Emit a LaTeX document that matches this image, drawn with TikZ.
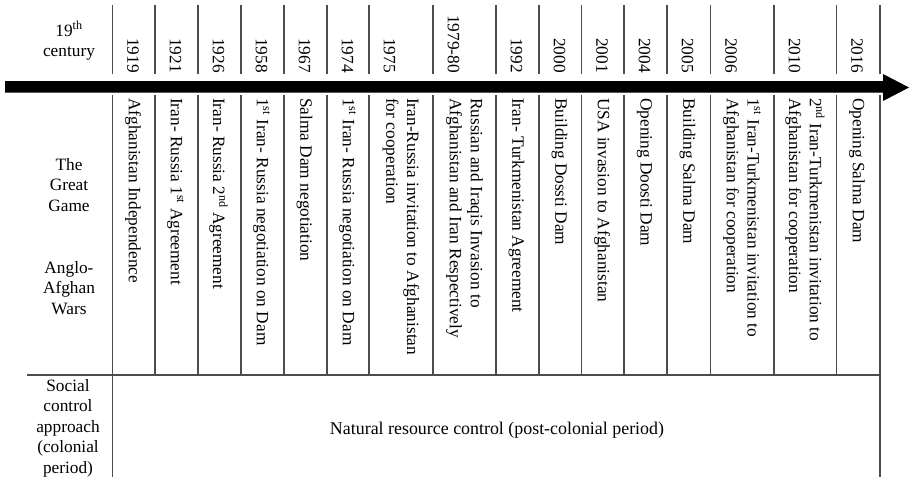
\documentclass[tikz,border=0pt]{standalone}
\usepackage{fontspec}
\setmainfont{Liberation Serif}
\newcommand\evfont{\fontsize{17.3}{20.8}\selectfont}
\newcommand\labfont{\fontsize{17.3}{20.5}\selectfont}
\begin{document}
\begin{tikzpicture}[x=1pt,y=-1pt,
  gridline/.style={draw=black!70,line width=1.3pt},
  yr/.style={rotate=-90,anchor=east,inner sep=0pt,font=\evfont},
  ev/.style={rotate=-90,anchor=west,inner sep=0pt,align=left,font=\evfont},
  lab/.style={align=center,inner sep=0pt,font=\labfont}]
\useasboundingbox (0,0) rectangle (910,479);
% upper grid lines
\foreach \x in {112.5,155,198,241,284,327,369,433,496,539,581.5,624,667,710.5,774,836.5,880}
  \draw[gridline] (\x,5) -- (\x,74);
% lower grid lines
\foreach \x in {155,198,241,284,327,369,433,496,539,581.5,624,667,710.5,774,836.5}
  \draw[gridline] (\x,95) -- (\x,375);
\draw[gridline] (112.5,95) -- (112.5,477);
\draw[gridline] (880,95) -- (880,477);
\draw[gridline] (27,375) -- (880,375);
% arrow
\fill[black] (5,81) -- (883,81) -- (883,74) -- (909,87.5) -- (883,101) -- (883,92.5) -- (5,92.5) -- cycle;
% left labels
\node[lab] (c19) at (69,41) {19\textsuperscript{th}\\century};
\node[lab] (gg) at (69,185) {The\\Great\\Game};
\node[lab] (aaw) at (69,288) {Anglo-\\Afghan\\Wars};
\node[lab] (sca) at (68,428) {Social\\control\\approach\\(colonial\\period)};
\node[lab,font=\fontsize{17.9}{21}\selectfont] (nrc) at (497,430) {Natural resource control (post-colonial period)};
% years
\node[yr] (y1) at (133,73) {1919};
\node[yr] (y2) at (175.5,73) {1921};
\node[yr] (y3) at (218.5,73) {1926};
\node[yr] (y4) at (261.5,73) {1958};
\node[yr] (y5) at (304.5,73) {1967};
\node[yr] (y6) at (347.5,73) {1974};
\node[yr] (y7) at (389.5,73) {1975};
\node[yr] (y8) at (453.5,73) {1979-80};
\node[yr] (y9) at (516.5,73) {1992};
\node[yr] (y10) at (559.5,73) {2000};
\node[yr] (y11) at (602,73) {2001};
\node[yr] (y12) at (644.5,73) {2004};
\node[yr] (y13) at (687.5,73) {2005};
\node[yr] (y14) at (731,73) {2006};
\node[yr] (y15) at (794.5,73) {2010};
\node[yr] (y16) at (857,73) {2016};
% events
\node[ev] (e1) at (133,98) {Afghanistan Independence};
\node[ev] (e2) at (175.5,98) {Iran- Russia 1\textsuperscript{st} Agreement};
\node[ev] (e3) at (218.5,98) {Iran- Russia 2\textsuperscript{nd} Agreement};
\node[ev] (e4) at (261.5,98) {1\textsuperscript{st} Iran- Russia negotiation on Dam};
\node[ev] (e5) at (304.5,98) {Salma Dam negotiation};
\node[ev] (e6) at (347.5,98) {1\textsuperscript{st} Iran- Russia negotiation on Dam};
\node[ev] (e7) at (401,98) {Iran-Russia invitation to Afghanistan\\for cooperation};
\node[ev] (e8) at (464.5,98) {Russian and Iraqis Invasion to\\Afghanistan and Iran Respectively};
\node[ev] (e9) at (516.5,98) {Iran- Turkmenistan Agreement};
\node[ev] (e10) at (559.5,98) {Building Dossti Dam};
\node[ev] (e11) at (602,98) {USA invasion to Afghanistan};
\node[ev] (e12) at (644.5,98) {Opening Doosti Dam};
\node[ev] (e13) at (687.5,98) {Building Salma Dam};
\node[ev] (e14) at (742,98) {1\textsuperscript{st} Iran-Turkmenistan invitation to\\Afghanistan for cooperation};
\node[ev] (e15) at (805,98) {2\textsuperscript{nd} Iran-Turkmenistan invitation to\\Afghanistan for cooperation};
\node[ev] (e16) at (857,98) {Opening Salma Dam};
\end{tikzpicture}
\end{document}
